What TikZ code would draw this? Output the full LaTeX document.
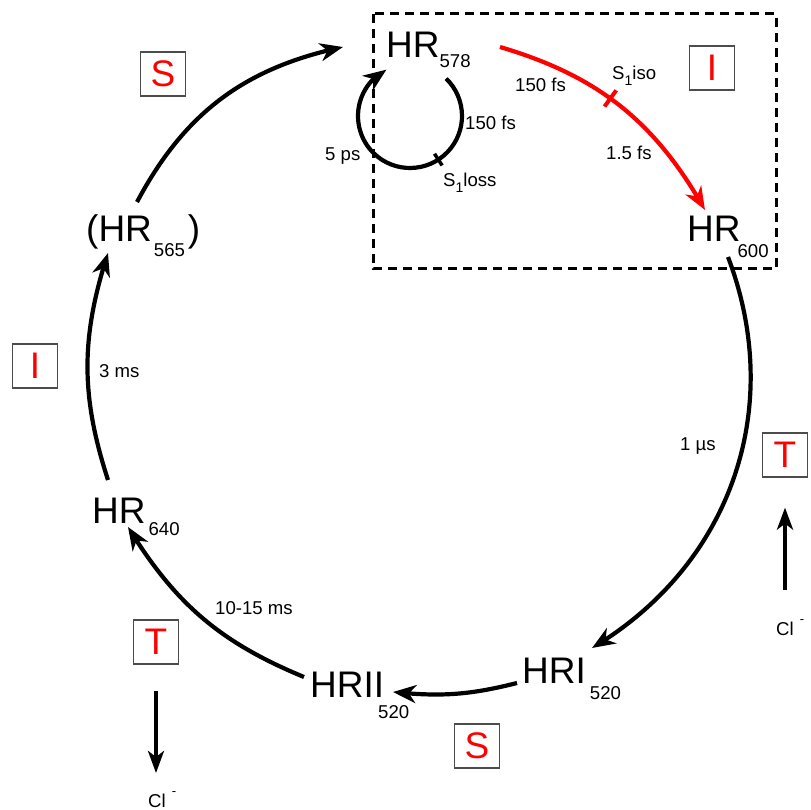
\documentclass[tikz,border=0pt]{standalone}
\usepackage{fontspec}
\setmainfont{Liberation Sans}
\usetikzlibrary{arrows.meta,calc,bending}
\newcommand\hrfont{\fontsize{37}{40}\selectfont}
\newcommand\lblfont{\fontsize{18.6}{20}\selectfont}
\newcommand\lowsub[2]{\raisebox{-#1}{\lblfont #2}}
\newcommand\smallsub[1]{\raisebox{-6pt}{\fontsize{14}{14}\selectfont #1}}
\newcommand\clminus{\hspace{6pt}\raisebox{12pt}{\fontsize{13}{13}\selectfont -}}
\begin{document}
\begin{tikzpicture}[x=1pt,y=1pt,
  hrn/.style={anchor=base west, inner sep=0pt, font=\hrfont},
  lbl/.style={anchor=base west, inner sep=0pt, font=\lblfont},
  lbox/.style={draw=black!70, line width=1.2pt, text=red, font=\hrfont, minimum width=45pt, minimum height=44pt, inner sep=0pt},
  arr/.style={line width=4.2pt, -{Stealth[length=23pt,width=18pt,inset=7pt]}},
  redarr/.style={arr, draw=red},
  clarr/.style={line width=4pt, -{Stealth[length=22pt,width=16pt,inset=6pt]}},
  dashbox/.style={line width=3pt, dash pattern=on 9pt off 6pt},
  tickmark/.style={sloped, minimum width=4pt, minimum height=20pt, inner sep=0pt}
]
\useasboundingbox (0,0) rectangle (811,-810);

% dashed frame
\draw[dashbox] (373,-14) rectangle (776,-269);

% states
\node[hrn] (hr578) at (386,-58) {HR\lowsub{10pt}{578}};
\node[hrn] (hr600) at (687,-242) {HR\kern-3pt\lowsub{16pt}{600}};
\node[hrn] (hr565) at (86,-242) {(HR\kern2pt\lowsub{15pt}{565}\kern3pt)};
\node[hrn] (hr640) at (92,-523) {HR\kern3pt\lowsub{12pt}{640}};
\node[hrn] (hrii) at (310,-697) {HRII\kern-6pt\lowsub{21pt}{520}};
\node[hrn] (hri) at (522,-683) {HRI\kern4pt\lowsub{16pt}{520}};

% boxed letters
\node[lbox] (sA) at (163,-74) {S};
\node[lbox] (iA) at (712,-68) {I};
\node[lbox] (iB) at (35,-366) {I};
\node[lbox] (tA) at (785,-455) {T};
\node[lbox] (tB) at (156,-642) {T};
\node[lbox] (sB) at (477,-746) {S};

% labels
\node[lbl] (l150a) at (515,-92) {150 fs};
\node[lbl] (ls1iso) at (612,-80) {S\smallsub{1}iso};
\node[lbl] (l15) at (606,-160) {1.5 fs};
\node[lbl] (l150b) at (465,-130) {150 fs};
\node[lbl] (l5ps) at (325,-161) {5 ps};
\node[lbl] (ls1loss) at (443,-187) {S\smallsub{1}loss};
\node[lbl] (l1us) at (680,-450) {1 µs};
\node[lbl] (l3ms) at (99,-377) {3 ms};
\node[lbl] (l1015) at (215,-614) {10-15 ms};
\node[lbl] (clA) at (776,-635) {Cl\clminus};
\node[lbl] (clB) at (148,-807) {Cl\clminus};

% cycle arrows
\draw[arr] ($(hr565.base west)+(51,40)$) to[bend left=25] ($(hr578.base west)+(-43,11)$);
\draw[redarr] ($(hr578.base west)+(114,11)$) to[bend left=22]
   node[tickmark, fill=red, pos=0.45] (tickA) {} ($(hr600.base west)+(18,32)$);
\coordinate (loopc) at ($(hr578.base west)+(24,-58)$);
\draw[arr] ($(loopc)+(46:52)$) arc[start angle=46, end angle=-243, radius=52];
\draw[line width=3.5pt] ($(loopc)+(-57:45)$) -- ($(loopc)+(-57:59)$);
\draw[arr] ($(hr600.base west)+(41,-15)$) to[bend left=40] ($(hri.base west)+(70,35)$);
\draw[arr] ($(hri.base west)+(-5,0)$) to[bend left=10] ($(hrii.base west)+(83,5)$);
\draw[arr] ($(hrii.base west)+(-6,20)$) to[bend left=18] ($(hr640.base west)+(36,-4)$);
\draw[arr] ($(hr640.base west)+(16,43)$) to[bend left=18] ($(hr565.base west)+(22,-11)$);

% chloride arrows
\draw[clarr] ($(tB.south)+(0,-26)$) -- ($(clB.base west)+(8,34)$);
\draw[clarr] ($(clA.base west)+(9,45)$) -- ($(tA.south)+(0,-30)$);
\end{tikzpicture}
\end{document}
